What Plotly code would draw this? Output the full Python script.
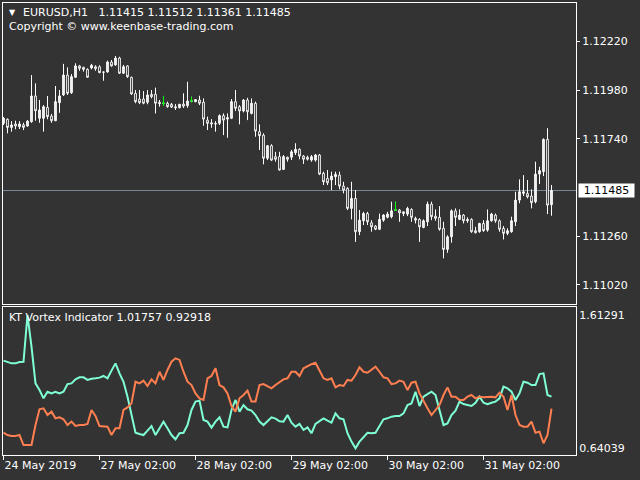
import plotly.graph_objects as go

# ---------------- data (EURUSD H1, 138 bars) ----------------
bar_index = list(range(138))

open_ = [1.11816,1.11836,1.11796,1.11813,1.11799,1.11809,1.11803,1.11824,1.11951,1.11841,
         1.11841,1.11895,1.11852,1.11829,1.11918,1.11956,1.12054,1.11967,1.12043,1.12099,
         1.12092,1.12082,1.12089,1.12095,1.12095,1.12069,1.12069,1.12118,1.12104,1.12138,
         1.12063,1.12099,1.12043,1.11964,1.11936,1.11936,1.11920,1.11959,1.11959,1.11920,
         1.11915,1.11915,1.11910,1.11898,1.11893,1.11911,1.11903,1.11926,1.11923,1.11931,
         1.11920,1.11832,1.11819,1.11816,1.11816,1.11854,1.11837,1.11841,1.11923,1.11898,
         1.11877,1.11931,1.11865,1.11915,1.11775,1.11758,1.11644,1.11706,1.11652,1.11652,
         1.11589,1.11649,1.11649,1.11671,1.11688,1.11655,1.11649,1.11635,1.11635,1.11660,
         1.11570,1.11545,1.11537,1.11553,1.11561,1.11507,1.11496,1.11397,1.11446,1.11282,
         1.11336,1.11372,1.11326,1.11310,1.11294,1.11339,1.11353,1.11356,1.11389,1.11389,
         1.11372,1.11369,1.11392,1.11348,1.11343,1.11303,1.11331,1.11418,1.11359,1.11353,
         1.11299,1.11195,1.11257,1.11385,1.11343,1.11364,1.11343,1.11343,1.11287,1.11282,
         1.11323,1.11290,1.11336,1.11364,1.11336,1.11299,1.11274,1.11282,1.11331,1.11438,
         1.11471,1.11471,1.11458,1.11430,1.11566,1.11578,1.11737,1.11415]

high = [1.11847,1.11840,1.11827,1.11829,1.11827,1.11819,1.11832,1.12054,1.12013,1.11931,
        1.11906,1.11951,1.11862,1.12000,1.11980,1.12109,1.12092,1.12059,1.12112,1.12104,
        1.12095,1.12087,1.12109,1.12102,1.12102,1.12071,1.12125,1.12128,1.12148,1.12144,
        1.12104,1.12102,1.12046,1.11980,1.11980,1.11975,1.11980,1.11980,1.11992,1.11931,
        1.11951,1.11923,1.11916,1.11911,1.11911,1.11964,1.12021,1.11947,1.11933,1.11952,
        1.11939,1.11849,1.11837,1.11827,1.11860,1.11865,1.11865,1.11936,1.11980,1.11906,
        1.11936,1.11942,1.11939,1.11923,1.11811,1.11767,1.11709,1.11713,1.11676,1.11676,
        1.11660,1.11652,1.11685,1.11718,1.11693,1.11660,1.11657,1.11660,1.11665,1.11665,
        1.11578,1.11586,1.11578,1.11578,1.11578,1.11528,1.11501,1.11528,1.11487,1.11389,
        1.11380,1.11380,1.11339,1.11315,1.11372,1.11369,1.11380,1.11430,1.11430,1.11394,
        1.11380,1.11405,1.11397,1.11356,1.11348,1.11343,1.11430,1.11430,1.11392,1.11408,
        1.11331,1.11265,1.11392,1.11397,1.11392,1.11369,1.11353,1.11348,1.11306,1.11326,
        1.11339,1.11392,1.11375,1.11372,1.11343,1.11310,1.11299,1.11356,1.11479,1.11540,
        1.11561,1.11537,1.11491,1.11627,1.11602,1.11742,1.11792,1.11512]

low = [1.11808,1.11767,1.11775,1.11787,1.11788,1.11783,1.11799,1.11819,1.11829,1.11819,
       1.11775,1.11836,1.11819,1.11827,1.11868,1.11951,1.11956,1.11961,1.12040,1.12075,
       1.12071,1.12040,1.12082,1.12075,1.12063,1.12026,1.12066,1.12095,1.12100,1.12059,
       1.12059,1.12040,1.11956,1.11915,1.11911,1.11910,1.11910,1.11939,1.11865,1.11898,
       1.11903,1.11893,1.11892,1.11882,1.11890,1.11892,1.11893,1.11920,1.11920,1.11906,
       1.11804,1.11783,1.11794,1.11775,1.11808,1.11758,1.11745,1.11837,1.11877,1.11811,
       1.11870,1.11832,1.11860,1.11750,1.11685,1.11614,1.11635,1.11630,1.11627,1.11583,
       1.11586,1.11627,1.11635,1.11660,1.11639,1.11616,1.11633,1.11627,1.11627,1.11561,
       1.11512,1.11512,1.11487,1.11512,1.11491,1.11471,1.11389,1.11343,1.11232,1.11265,
       1.11315,1.11315,1.11282,1.11290,1.11290,1.11331,1.11348,1.11348,1.11385,1.11331,
       1.11359,1.11359,1.11331,1.11323,1.11232,1.11299,1.11310,1.11339,1.11336,1.11287,
       1.11151,1.11178,1.11228,1.11310,1.11339,1.11323,1.11326,1.11277,1.11274,1.11277,
       1.11282,1.11282,1.11331,1.11326,1.11282,1.11244,1.11265,1.11277,1.11310,1.11422,
       1.11458,1.11446,1.11397,1.11422,1.11517,1.11556,1.11369,1.11361]

close = [1.11841,1.11796,1.11808,1.11803,1.11813,1.11796,1.11827,1.11951,1.11878,1.11882,
         1.11898,1.11849,1.11829,1.11923,1.11951,1.12054,1.11964,1.12046,1.12099,1.12087,
         1.12082,1.12043,1.12102,1.12085,1.12066,1.12068,1.12118,1.12099,1.12138,1.12063,
         1.12095,1.12046,1.11961,1.11923,1.11918,1.11915,1.11956,1.11947,1.11915,1.11913,
         1.11915,1.11898,1.11896,1.11893,1.11910,1.11901,1.11926,1.11926,1.11933,1.11915,
         1.11837,1.11816,1.11813,1.11813,1.11854,1.11832,1.11844,1.11923,1.11890,1.11877,
         1.11931,1.11873,1.11915,1.11778,1.11755,1.11644,1.11706,1.11635,1.11639,1.11586,
         1.11652,1.11639,1.11676,1.11688,1.11655,1.11639,1.11639,1.11652,1.11660,1.11566,
         1.11528,1.11523,1.11556,1.11565,1.11507,1.11487,1.11397,1.11446,1.11282,1.11339,
         1.11372,1.11331,1.11306,1.11294,1.11343,1.11364,1.11369,1.11385,1.11389,1.11375,
         1.11380,1.11397,1.11353,1.11339,1.11306,1.11336,1.11418,1.11356,1.11348,1.11294,
         1.11195,1.11257,1.11385,1.11353,1.11364,1.11336,1.11336,1.11282,1.11277,1.11323,
         1.11287,1.11336,1.11369,1.11336,1.11294,1.11274,1.11287,1.11336,1.11438,1.11479,
         1.11479,1.11454,1.11425,1.11566,1.11583,1.11737,1.11413,1.11485]

vi_plus = [1.280,1.270,1.260,1.260,1.270,1.272,1.61291,1.382,1.114,1.066,
           1.005,1.053,1.041,1.053,1.041,1.053,1.109,1.114,1.143,1.158,
           1.158,1.139,1.148,1.151,1.156,1.168,1.151,1.207,1.260,1.187,
           1.126,1.017,0.895,0.754,0.745,0.737,0.769,0.803,0.737,0.786,
           0.835,0.786,0.737,0.706,0.750,0.754,0.810,0.920,0.981,0.988,
           0.847,0.835,0.791,0.835,0.866,0.798,0.793,0.920,0.993,0.908,
           0.956,0.925,0.915,0.883,0.835,0.810,0.842,0.866,0.857,0.837,
           0.835,0.883,0.827,0.798,0.818,0.774,0.793,0.750,0.818,0.842,
           0.859,0.842,0.827,0.895,0.859,0.852,0.750,0.689,0.64039,0.689,
           0.720,0.754,0.750,0.754,0.803,0.852,0.859,0.871,0.876,0.876,
           0.895,0.956,0.968,1.053,0.949,1.017,1.036,1.053,1.029,0.920,
           0.810,0.822,0.883,0.915,0.981,0.963,0.956,0.949,0.973,1.017,
           0.973,0.963,0.973,0.981,1.005,1.090,1.078,1.053,0.993,1.041,
           1.126,1.119,1.102,1.102,1.182,1.187,1.029,1.01757]

vi_minus = [0.754,0.737,0.730,0.730,0.737,0.664,0.664,0.664,0.810,0.925,
            0.932,0.883,0.908,0.859,0.866,0.852,0.810,0.835,0.803,0.810,
            0.810,0.818,0.920,0.876,0.803,0.803,0.798,0.737,0.786,0.786,
            0.920,0.939,0.968,1.126,1.114,1.134,1.095,1.143,1.114,1.199,
            1.139,1.212,1.272,1.297,1.285,1.199,1.126,1.102,1.041,1.005,
            0.993,1.151,1.168,1.224,1.102,1.085,1.041,0.949,0.908,1.005,
            1.029,1.061,0.981,0.981,1.102,1.109,1.095,1.078,1.102,1.126,
            1.143,1.151,1.199,1.199,1.168,1.224,1.241,1.255,1.265,1.212,
            1.151,1.139,1.151,1.085,1.102,1.095,1.139,1.134,1.175,1.231,
            1.199,1.192,1.216,1.236,1.199,1.158,1.151,1.109,1.114,1.134,
            1.126,1.066,1.119,1.126,1.041,0.981,0.932,0.883,0.920,0.956,
            1.029,1.085,1.017,1.017,0.993,0.993,1.017,1.029,1.005,1.017,
            1.012,1.017,1.017,1.012,1.046,1.017,0.920,1.029,0.883,0.810,
            0.798,0.798,0.835,0.754,0.762,0.677,0.737,0.92918]

time_tick_bars = [0, 24, 48, 72, 96, 120]
time_tick_labels = ["24 May 2019", "27 May 02:00", "28 May 02:00",
                    "29 May 02:00", "30 May 02:00", "31 May 02:00"]
price_ticks = [1.11020, 1.11260, 1.11740, 1.11980, 1.12220]
vortex_ticks = [0.64039, 1.61291]

symbol = "EURUSD,H1"
copyright_text = "Copyright \u00a9 www.keenbase-trading.com"
indicator_name = "KT Vortex Indicator"

# ---------------- figure ----------------
BG = "#333333"
FONT = "DejaVu Sans"
fig = go.Figure()

fig.add_trace(go.Candlestick(
    x=bar_index, open=open_, high=high, low=low, close=close,
    xaxis="x", yaxis="y", whiskerwidth=0, hoverinfo="skip",
    increasing=dict(line=dict(color="#ffffff", width=1), fillcolor="#e8e8e8"),
    decreasing=dict(line=dict(color="#ffffff", width=1), fillcolor="#000000"),
    showlegend=False))

doji = [i for i in bar_index if open_[i] == close[i]]
fig.add_trace(go.Candlestick(
    x=doji, open=[open_[i] for i in doji], high=[high[i] for i in doji],
    low=[low[i] for i in doji], close=[close[i] for i in doji],
    xaxis="x", yaxis="y", whiskerwidth=0, hoverinfo="skip",
    increasing=dict(line=dict(color="#00ff00", width=1), fillcolor="#00ff00"),
    decreasing=dict(line=dict(color="#00ff00", width=1), fillcolor="#00ff00"),
    showlegend=False))

fig.add_trace(go.Scatter(x=bar_index, y=vi_plus, xaxis="x2", yaxis="y2", mode="lines",
                         line=dict(color="#7fffd4", width=2), hoverinfo="skip", showlegend=False))
fig.add_trace(go.Scatter(x=bar_index, y=vi_minus, xaxis="x2", yaxis="y2", mode="lines",
                         line=dict(color="#ff7f50", width=2), hoverinfo="skip", showlegend=False))

xr = [-0.125, 143.125]
axis_common = dict(showgrid=False, zeroline=False, showline=True, mirror=True,
                   linecolor="#ffffff", linewidth=1)

fig.update_layout(
    width=640, height=480,
    margin=dict(l=3, r=64, t=3, b=25),
    paper_bgcolor=BG, plot_bgcolor=BG,
    font=dict(family=FONT, size=11, color="#ffffff"),
    showlegend=False,
    boxgap=0.4,
    xaxis=dict(domain=[0, 1], range=xr, anchor="y", showticklabels=False, ticks="",
               rangeslider=dict(visible=False), **axis_common),
    yaxis=dict(domain=[0.3341, 1], range=[1.10926, 1.12409], anchor="x", side="right",
               tickvals=price_ticks, tickformat=".5f", ticks="outside", ticklen=3,
               tickcolor="#ffffff", tickfont=dict(family=FONT, size=11, color="#ffffff"),
               **axis_common),
    xaxis2=dict(domain=[0, 1], range=xr, anchor="y2", tickvals=time_tick_bars,
                ticktext=time_tick_labels, ticks="outside", ticklen=4, tickcolor="#ffffff",
                ticklabelposition="outside right",
                tickfont=dict(family=FONT, size=11, color="#ffffff"), **axis_common),
    yaxis2=dict(domain=[0, 0.3274], range=[0.5914, 1.6712], anchor="x2", side="right",
                tickvals=vortex_ticks, tickformat=".5f", ticks="",
                tickfont=dict(family=FONT, size=11, color="#ffffff"), **axis_common),
)

# bid line
fig.add_shape(type="line", xref="x domain", yref="y", x0=0, x1=1,
              y0=close[-1], y1=close[-1], line=dict(color="#778899", width=1), layer="below")

nb = "\u00a0"
header = f"{symbol}{nb*3}{open_[-1]:.5f} {high[-1]:.5f} {low[-1]:.5f} {close[-1]:.5f}"
fig.add_annotation(xref="paper", yref="paper", x=0.007, y=0.978, xanchor="left", yanchor="middle",
                   text="\u25bc", showarrow=False, font=dict(family=FONT, size=8, color="#ffffff"))
fig.add_annotation(xref="paper", yref="paper", x=0.0314, y=0.978, xanchor="left", yanchor="middle",
                   text=header, showarrow=False, font=dict(family=FONT, size=11, color="#ffffff"))
fig.add_annotation(xref="paper", yref="paper", x=0.007, y=0.949, xanchor="left", yanchor="middle",
                   text=copyright_text, showarrow=False, font=dict(family=FONT, size=11, color="#ffffff"))
fig.add_annotation(xref="paper", yref="paper", x=0.007, y=0.3053, xanchor="left", yanchor="middle",
                   text=f"{indicator_name} {vi_plus[-1]:.5f} {vi_minus[-1]:.5f}", showarrow=False,
                   font=dict(family=FONT, size=11, color="#ffffff"))
fig.add_annotation(xref="paper", yref="y", x=1, y=close[-1], xanchor="left", yanchor="middle",
                   xshift=2, text=f"{close[-1]:.5f}", showarrow=False, bgcolor="#ffffff",
                   width=55, height=13, borderpad=0,
                   font=dict(family=FONT, size=11, color="#000000"))

fig.write_html("out.html", config={"displayModeBar": False},
               post_script="document.body.style.margin='0';document.body.style.padding='0';")
